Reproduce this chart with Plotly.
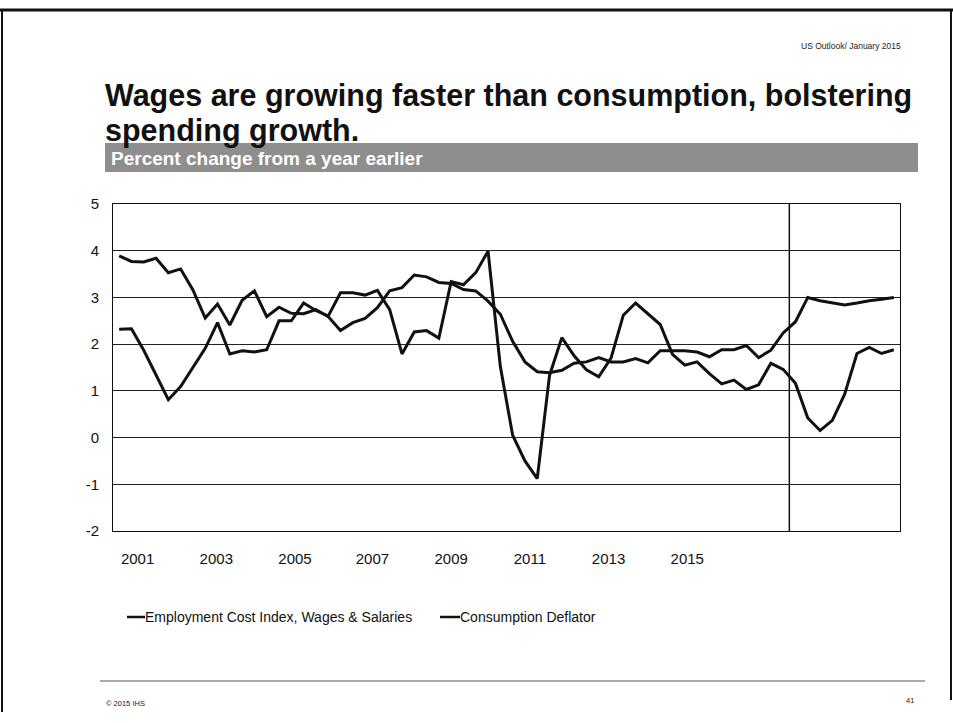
import plotly.graph_objects as go

# Quarterly observations, 2001Q1 through 2016Q4 (history to 2014Q3, forecast after)
quarters = [f"{y}Q{q}" for y in range(2001, 2017) for q in range(1, 5)]

eci_wages = [
    3.89, 3.77, 3.76, 3.84, 3.53, 3.61, 3.16, 2.56,
    2.86, 2.41, 2.94, 3.14, 2.59, 2.79, 2.66, 2.65,
    2.74, 2.59, 2.29, 2.46, 2.55, 2.78, 3.14, 3.21,
    3.48, 3.44, 3.32, 3.30, 3.17, 3.14, 2.92, 2.64,
    2.06, 1.62, 1.41, 1.39, 1.44, 1.59, 1.62, 1.71,
    1.62, 1.62, 1.69, 1.60, 1.86, 1.86, 1.86, 1.83,
    1.73, 1.88, 1.88, 1.97, 1.71, 1.87, 2.24, 2.48,
    3.00, 2.93, 2.88, 2.84, 2.88, 2.93, 2.96, 3.00,
]

pce_deflator = [
    2.32, 2.33, 1.87, 1.34, 0.81, 1.09, 1.49, 1.91,
    2.46, 1.79, 1.86, 1.83, 1.88, 2.50, 2.50, 2.88,
    2.72, 2.60, 3.10, 3.10, 3.05, 3.15, 2.74, 1.79,
    2.26, 2.29, 2.13, 3.34, 3.27, 3.53, 3.99, 1.52,
    0.05, -0.50, -0.88, 1.33, 2.14, 1.75, 1.45, 1.30,
    1.70, 2.62, 2.88, 2.64, 2.42, 1.78, 1.55, 1.62,
    1.37, 1.15, 1.23, 1.03, 1.13, 1.59, 1.46, 1.16,
    0.42, 0.15, 0.37, 0.93, 1.80, 1.93, 1.80, 1.88,
]

series_names = ["Employment Cost Index, Wages & Salaries", "Consumption Deflator"]

year_labels = ["2001", "2003", "2005", "2007", "2009", "2011", "2013", "2015"]
year_label_pos = [1.5, 7.9, 14.3, 20.6, 27.0, 33.4, 39.8, 46.2]

y_ticks = [5, 4, 3, 2, 1, 0, -1, -2]
y_tick_text = ["5", "4", "3", "2", "1", "0", "-1", "-2"]

forecast_start = 54.5  # boundary drawn between last history point and forecast

FONT = "Arial, Liberation Sans, sans-serif"
INK = "#111111"

x_idx = list(range(len(quarters)))

fig = go.Figure()
for name, vals in zip(series_names, [eci_wages, pce_deflator]):
    fig.add_trace(go.Scatter(
        x=x_idx, y=vals, name=name, mode="lines", showlegend=False,
        customdata=quarters,
        hovertemplate="%{customdata}: %{y:.1f}<extra>" + name + "</extra>",
        line=dict(color=INK, width=3),
    ))

fig.add_vline(x=forecast_start, line=dict(color=INK, width=1.5), layer="below")

fig.update_layout(
    width=953, height=723,
    margin=dict(l=113, r=53, t=204, b=192),
    paper_bgcolor="white", plot_bgcolor="white",
    font=dict(family=FONT, color=INK),
    xaxis=dict(
        range=[-0.5, 63.5], showgrid=False, zeroline=False,
        tickmode="array", tickvals=year_label_pos, ticktext=year_labels,
        ticks="", ticklabelstandoff=14,
        tickfont=dict(size=15, family=FONT, color=INK),
        showline=True, linecolor=INK, linewidth=1, mirror=True,
    ),
    yaxis=dict(
        range=[-2, 5], tickmode="array", tickvals=y_ticks, ticktext=y_tick_text,
        showgrid=True, gridcolor="#222222", gridwidth=1, zeroline=False,
        ticks="", ticklabelstandoff=10,
        tickfont=dict(size=15, family=FONT, color=INK),
        showline=True, linecolor=INK, linewidth=1, mirror=True,
    ),
)

def px_x(x):
    return (x - 113) / 787

def px_y(y):
    return (531 - y) / 327

# Slide furniture: frame, subtitle band, footer rule
shapes = [
    dict(type="line", x0=px_x(0), x1=px_x(953), y0=px_y(10), y1=px_y(10),
         line=dict(color=INK, width=3)),
    dict(type="line", x0=px_x(2), x1=px_x(2), y0=px_y(10), y1=px_y(712),
         line=dict(color=INK, width=2)),
    dict(type="line", x0=px_x(951), x1=px_x(951), y0=px_y(10), y1=px_y(700),
         line=dict(color=INK, width=2)),
    dict(type="rect", x0=px_x(105), x1=px_x(918), y0=px_y(172), y1=px_y(143),
         fillcolor="#8e8e8e", line=dict(width=0), layer="below"),
    dict(type="line", x0=px_x(100), x1=px_x(925), y0=px_y(681), y1=px_y(681),
         line=dict(color="#555555", width=1)),
]

# Legend: short key line butting against each series name
legend_key_x = [(127, 145), (440, 460)]
legend_y = 617
for (k0, k1) in legend_key_x:
    shapes.append(dict(type="line", x0=px_x(k0), x1=px_x(k1),
                       y0=px_y(legend_y), y1=px_y(legend_y),
                       line=dict(color=INK, width=2.5)))

for s in shapes:
    s.update(xref="paper", yref="paper")
    fig.add_shape(**s)

annotations = [
    dict(text="US Outlook/ January 2015", x=px_x(903), y=px_y(46), xanchor="right",
         yanchor="middle", font=dict(size=8.5, family=FONT, color="#222222")),
    dict(text="<b>Wages are growing faster than consumption, bolstering</b>",
         x=px_x(103), y=px_y(95), xanchor="left", yanchor="middle", align="left",
         font=dict(size=30.5, family=FONT, color=INK)),
    dict(text="<b>spending growth.</b>",
         x=px_x(103), y=px_y(130), xanchor="left", yanchor="middle", align="left",
         font=dict(size=30.5, family=FONT, color=INK)),
    dict(text="<b>Percent change from a year earlier</b>", x=px_x(109), y=px_y(158),
         xanchor="left", yanchor="middle",
         font=dict(size=19, family=FONT, color="white")),
    dict(text="© 2015 IHS", x=px_x(104), y=px_y(703), xanchor="left", yanchor="middle",
         font=dict(size=7.5, family=FONT, color="#222222")),
    dict(text="41", x=px_x(916), y=px_y(700), xanchor="right", yanchor="middle",
         font=dict(size=7.5, family=FONT, color="#222222")),
]
for name, (k0, k1) in zip(series_names, legend_key_x):
    annotations.append(dict(text=name, x=px_x(k1), y=px_y(legend_y), xanchor="left",
                            yanchor="middle", xshift=-2,
                            font=dict(size=14, family=FONT, color=INK)))

for a in annotations:
    a.update(xref="paper", yref="paper", showarrow=False)
    fig.add_annotation(**a)

fig.write_html("out.html")
